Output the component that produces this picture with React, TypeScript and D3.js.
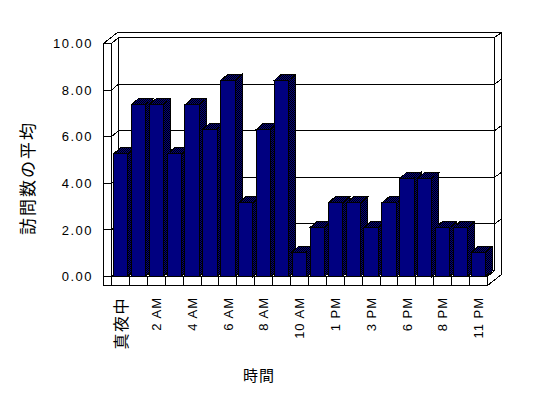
import React from "react";
import * as d3 from "d3";

const categories: string[] = [
  "真夜中", "1 AM", "2 AM", "3 AM", "4 AM", "5 AM", "6 AM", "7 AM", "8 AM", "9 AM",
  "10 AM", "11 AM", "1 PM", "2 PM", "3 PM", "5 PM", "6 PM", "7 PM", "8 PM", "10 PM", "11 PM",
];
const visitAvg: number[] = [
  5.26, 7.37, 7.37, 5.26, 7.37, 6.32, 8.42, 3.16, 6.32, 8.42,
  1.05, 2.11, 3.16, 3.16, 2.11, 3.16, 4.21, 4.21, 2.11, 2.11, 1.05,
];
const yTicks: number[] = [0, 2, 4, 6, 8, 10];
const shownLabels: string[] = ["真夜中", "2 AM", "4 AM", "6 AM", "8 AM", "10 AM", "1 PM", "3 PM", "6 PM", "8 PM", "11 PM"];
const yTitle = "訪問数の平均";
const xTitle = "時間";

const W = 548;
const H = 398;
const X0 = 111.5;
const X1 = 487.5;
const DX = 7, DY = -6; // depth of plot
const TX = 7, TY = -5; // back wall thickness
const LW = 8; // left wall thickness
const FT = 9; // floor thickness

const LATIN = "'Liberation Sans', Arial, sans-serif";
const CJK = "'Noto Sans CJK JP', sans-serif";

export default function App() {
  const y = d3.scaleLinear().domain([0, 10]).range([276.5, 43.5]);
  const x = d3.scaleBand<string>().domain(categories).range([X0, X1]).paddingInner(0.2).paddingOuter(0.1);
  const step = x.step();
  const bw = x.bandwidth();

  const L = X0 - LW;
  const R = X1;
  const T = y(10);
  const B = y(0);
  const FB = B + FT;
  const BX = DX + TX, BY = DY + TY;

  const pts = (a: [number, number][]) => a.map((p) => p.join(",")).join(" ");
  const stroke = { fill: "#fff", stroke: "#000", strokeWidth: 1 };

  return (
    <svg width={W} height={H} style={{ position: "absolute", left: 0, top: 0, background: "#fff" }} shapeRendering="crispEdges">
      <defs>
        <pattern id="dither" width={2} height={2} patternUnits="userSpaceOnUse">
          <rect x={0} y={0} width={2} height={2} fill="#000080" />
          <rect x={0} y={0} width={1} height={1} fill="#000" />
          <rect x={1} y={1} width={1} height={1} fill="#000" />
        </pattern>
      </defs>
      <rect x={0} y={0} width={W} height={H} fill="#fff" />

      {/* top face of walls */}
      <polygon {...stroke} points={pts([[L, T], [X0, T], [X0 + DX, T + DY], [R + DX, T + DY], [R + BX, T + BY], [L + BX, T + BY]])} />
      {/* back wall front face */}
      <polygon {...stroke} points={pts([[X0 + DX, T + DY], [R + DX, T + DY], [R + DX, B + DY], [X0 + DX, B + DY]])} />
      {/* right side face */}
      <polygon {...stroke} points={pts([[R + DX, T + DY], [R + BX, T + BY], [R + BX, FB + BY], [R, FB], [R, B], [R + DX, B + DY]])} />
      {/* left wall inner face */}
      <polygon {...stroke} points={pts([[X0, T], [X0 + DX, T + DY], [X0 + DX, B + DY], [X0, B]])} />
      {/* left wall front face */}
      <rect {...stroke} x={L} y={T} width={LW} height={FB - T} />
      {/* floor top */}
      <polygon {...stroke} points={pts([[X0, B], [R, B], [R + DX, B + DY], [X0 + DX, B + DY]])} />
      {/* floor front */}
      <rect {...stroke} x={X0} y={B} width={R - X0} height={FT} />
      {categories.slice(1).map((c) => (
        <line key={"div" + c} x1={x(c)! - step * 0.1} x2={x(c)! - step * 0.1} y1={B} y2={FB} stroke="#000" />
      ))}

      {/* gridlines */}
      {yTicks.map((v) => {
        const yy = y(v);
        return (
          <g key={"g" + v} stroke="#000" fill="none">
            {v > 0 && v < 10 && <line x1={X0 + DX} x2={R + DX} y1={yy + DY} y2={yy + DY} />}
            <line x1={L} x2={X0} y1={yy} y2={yy} />
            <line x1={X0} x2={X0 + DX} y1={yy} y2={yy + DY} />
            {v > 0 && v < 10 && <line x1={R + DX} x2={R + BX} y1={yy + DY} y2={yy + BY} />}
          </g>
        );
      })}

      {/* bars */}
      {categories.map((c, i) => {
        const v = visitAvg[i];
        const bx = x(c)!;
        const top = y(v);
        return (
          <g key={"b" + c} stroke="#000" strokeWidth={1}>
            <polygon fill="url(#dither)" points={pts([[bx + bw, top], [bx + bw + DX, top + DY], [bx + bw + DX, B + DY], [bx + bw, B]])} />
            <polygon fill="url(#dither)" points={pts([[bx, top], [bx + DX, top + DY], [bx + bw + DX, top + DY], [bx + bw, top]])} />
            <rect fill="#000080" x={bx} y={top} width={bw} height={B - top} />
          </g>
        );
      })}

      {/* y tick labels */}
      {yTicks.map((v) => (
        <text key={"t" + v} x={93} y={y(v)} dy="0.36em" textAnchor="end" fontFamily={LATIN} fontSize={13} letterSpacing={1.5} fill="#000">
          {d3.format(".2f")(v)}
        </text>
      ))}

      {/* x labels */}
      {categories.map((c) => {
        if (!shownLabels.includes(c)) return null;
        const cx = x(c)! + bw / 2;
        const isCjk = /[^\x00-\x7f]/.test(c);
        return (
          <text key={"x" + c} transform={`translate(${cx},297) rotate(-90)`} dy={isCjk ? "0.38em" : "0.36em"} textAnchor="end"
            fontFamily={isCjk ? CJK : LATIN} fontSize={isCjk ? 16 : 13} letterSpacing={isCjk ? 1.5 : 1} fill="#000">
            {c}
          </text>
        );
      })}

      {/* axis titles */}
      <text transform="translate(28,178) rotate(-90)" textAnchor="middle" dy="0.38em" fontFamily={CJK} fontSize={17} letterSpacing={2} fill="#000">
        {yTitle}
      </text>
      <text x={259} y={375} textAnchor="middle" dy="0.38em" fontFamily={CJK} fontSize={15} letterSpacing={1} fill="#000">
        {xTitle}
      </text>
    </svg>
  );
}
